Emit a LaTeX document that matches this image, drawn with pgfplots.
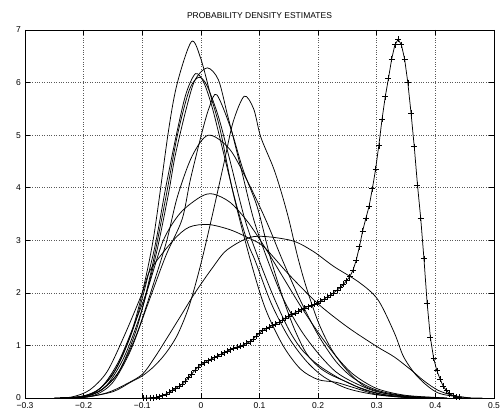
\documentclass[border=0pt]{standalone}
\usepackage{fontspec}
\setmainfont{Liberation Sans}
\usepackage{pgfplots}
\pgfplotsset{compat=1.18}
\begin{document}
\begin{tikzpicture}
\path[use as bounding box] (-25pt,-16pt) rectangle (479pt,398pt);
\begin{axis}[at={(0pt,0pt)}, anchor=south west, scale only axis,
  width=469pt, height=368pt,
  xmin=-0.3, xmax=0.5, ymin=0, ymax=7,
  xtick={-0.3,-0.2,-0.1,0,0.1,0.2,0.3,0.4,0.5},
  xticklabels={−0.3,−0.2,−0.1,0,0.1,0.2,0.3,0.4,0.5},
  ytick={0,1,2,3,4,5,6,7},
  tick align=inside, major tick length=5pt,
  grid=major, major grid style={dotted, black!65, line width=0.6pt},
  axis line style={line width=0.8pt},
  tick style={black, line width=0.6pt},
  ticklabel style={font=\fontsize{8.5}{10}\selectfont},
  xticklabel style={yshift=-1.5pt},
  yticklabel style={xshift=-0.5pt},
  /pgf/number format/assume math mode=true,
  title={PROBABILITY DENSITY ESTIMATES},
  title style={font=\fontsize{8.5}{10}\selectfont, at={(0.5,1)}, anchor=south, yshift=2pt},
  every axis plot/.append style={black, line width=0.75pt},
]
% A
\addplot[smooth, tension=0.5] coordinates {(-0.25,0) (-0.21,0.02) (-0.18,0.12) (-0.15,0.45) (-0.12,1.2) (-0.1,2.0) (-0.08,3.1) (-0.055,5.1) (-0.04,6.0) (-0.016,6.78) (0.0,6.45) (0.017,5.74) (0.033,5.1) (0.055,3.9) (0.085,2.6) (0.11,1.7) (0.14,1.0) (0.17,0.55) (0.2,0.35) (0.23,0.3) (0.26,0.2) (0.3,0.07) (0.35,0.01) (0.4,0)};
% B
\addplot[smooth, tension=0.5] coordinates {(-0.24,0) (-0.2,0.04) (-0.17,0.2) (-0.14,0.65) (-0.11,1.5) (-0.08,2.8) (-0.06,4.0) (-0.04,5.1) (-0.025,5.8) (-0.009,6.17) (0.005,6.0) (0.02,5.5) (0.04,4.6) (0.06,3.7) (0.08,2.95) (0.093,2.6) (0.12,1.8) (0.15,1.15) (0.18,0.7) (0.21,0.4) (0.25,0.18) (0.3,0.06) (0.36,0)};
% B2
\addplot[smooth, tension=0.5] coordinates {(-0.24,0) (-0.2,0.03) (-0.17,0.15) (-0.14,0.5) (-0.11,1.3) (-0.085,2.4) (-0.06,3.8) (-0.04,5.0) (-0.02,5.85) (-0.004,6.1) (0.01,5.95) (0.03,5.35) (0.05,4.5) (0.075,3.4) (0.1,2.6) (0.125,1.9) (0.15,1.3) (0.17,0.95) (0.19,0.72) (0.21,0.55) (0.24,0.35) (0.27,0.2) (0.31,0.07) (0.36,0.01) (0.4,0)};
% C
\addplot[smooth, tension=0.5] coordinates {(-0.23,0) (-0.19,0.05) (-0.16,0.25) (-0.13,0.8) (-0.1,1.7) (-0.075,2.8) (-0.055,3.9) (-0.044,4.6) (-0.025,5.5) (-0.01,6.05) (0.011,6.28) (0.03,6.05) (0.045,5.4) (0.052,5.1) (0.07,4.3) (0.09,3.4) (0.113,2.65) (0.14,1.9) (0.17,1.3) (0.2,0.85) (0.23,0.5) (0.26,0.3) (0.3,0.12) (0.35,0.03) (0.4,0)};
% D
\addplot[smooth, tension=0.5] coordinates {(-0.22,0) (-0.18,0.06) (-0.15,0.3) (-0.12,0.9) (-0.09,1.8) (-0.06,2.7) (-0.032,3.4) (-0.018,4.15) (0.003,5.1) (0.015,5.55) (0.027,5.77) (0.05,5.16) (0.072,4.34) (0.096,3.64) (0.118,2.69) (0.14,1.9) (0.16,1.3) (0.18,0.85) (0.2,0.6) (0.22,0.45) (0.25,0.3) (0.28,0.15) (0.32,0.05) (0.38,0)};
% E
\addplot[smooth, tension=0.5] coordinates {(-0.24,0) (-0.2,0.01) (-0.15,0.12) (-0.12,0.3) (-0.1,0.42) (-0.08,0.6) (-0.06,0.85) (-0.04,1.2) (-0.02,1.75) (0,2.55) (0.02,3.5) (0.04,4.5) (0.055,5.25) (0.074,5.74) (0.09,5.5) (0.102,4.97) (0.123,4.4) (0.136,3.96) (0.15,3.4) (0.165,2.69) (0.18,2.1) (0.2,1.45) (0.22,0.98) (0.24,0.65) (0.26,0.4) (0.28,0.22) (0.31,0.1) (0.35,0.03) (0.4,0)};
% F
\addplot[smooth, tension=0.5] coordinates {(-0.24,0) (-0.2,0.02) (-0.17,0.15) (-0.14,0.5) (-0.11,1.2) (-0.08,2.2) (-0.058,3.0) (-0.04,3.83) (-0.015,4.6) (0.013,5.0) (0.05,4.72) (0.085,4.0) (0.113,3.33) (0.14,2.6) (0.17,1.85) (0.2,1.2) (0.23,0.7) (0.26,0.38) (0.3,0.15) (0.35,0.04) (0.42,0)};
% G
\addplot[smooth, tension=0.5] coordinates {(-0.24,0) (-0.2,0.02) (-0.17,0.2) (-0.14,0.7) (-0.11,1.5) (-0.09,2.1) (-0.064,3.0) (-0.035,3.52) (0,3.83) (0.021,3.88) (0.05,3.72) (0.08,3.35) (0.11,2.85) (0.14,2.3) (0.17,1.75) (0.2,1.25) (0.23,0.8) (0.26,0.45) (0.3,0.18) (0.35,0.05) (0.42,0)};
% H
\addplot[smooth, tension=0.5] coordinates {(-0.25,0) (-0.22,0.02) (-0.19,0.15) (-0.16,0.5) (-0.13,1.2) (-0.1,2.0) (-0.086,2.44) (-0.047,3.0) (-0.02,3.25) (0.013,3.3) (0.05,3.2) (0.08,3.05) (0.107,2.88) (0.15,2.35) (0.199,1.8) (0.25,1.35) (0.3,0.98) (0.33,0.78) (0.36,0.52) (0.38,0.33) (0.404,0.15) (0.43,0.05) (0.46,0)};
% I
\addplot[smooth, tension=0.5] coordinates {(-0.24,0) (-0.2,0.01) (-0.16,0.1) (-0.13,0.25) (-0.1,0.45) (-0.08,0.75) (-0.06,1.1) (-0.035,1.55) (-0.01,2.0) (0.02,2.48) (0.045,2.82) (0.09,3.07) (0.153,3.0) (0.19,2.8) (0.227,2.5) (0.27,2.2) (0.302,1.87) (0.33,1.24) (0.346,0.78) (0.37,0.4) (0.404,0.1) (0.45,0.01) (0.48,0)};
% marked curve
\addplot[mark=+, mark size=3pt, mark options={line width=0.6pt}] coordinates {
(-0.0980,0.000) (-0.0925,0.001) (-0.0870,0.003) (-0.0815,0.005) (-0.0760,0.012)
(-0.0705,0.025) (-0.0650,0.045) (-0.0595,0.075) (-0.0540,0.11) (-0.0485,0.145)
(-0.0430,0.18) (-0.0375,0.22) (-0.0320,0.265) (-0.0265,0.32) (-0.0210,0.39)
(-0.0155,0.46) (-0.0100,0.53) (-0.0045,0.59) (0.0010,0.64) (0.0065,0.67)
(0.0120,0.71) (0.0175,0.74) (0.0230,0.77) (0.0285,0.80) (0.0340,0.83)
(0.0395,0.86) (0.0450,0.89) (0.0505,0.92) (0.0560,0.95) (0.0615,0.97)
(0.0670,0.99) (0.0725,1.01) (0.0780,1.04) (0.0835,1.07) (0.0890,1.12)
(0.0945,1.18) (0.1000,1.24) (0.1055,1.28) (0.1110,1.32) (0.1165,1.35)
(0.1220,1.38) (0.1275,1.41) (0.1330,1.44) (0.1385,1.48) (0.1440,1.52)
(0.1495,1.56) (0.1550,1.59) (0.1605,1.62) (0.1660,1.65) (0.1715,1.68)
(0.1770,1.71) (0.1825,1.74) (0.1880,1.76) (0.1935,1.78) (0.1990,1.81)
(0.2045,1.84) (0.2100,1.88) (0.2155,1.92) (0.2210,1.96) (0.2265,2.00)
(0.2320,2.05) (0.2375,2.10) (0.2430,2.16) (0.2485,2.23) (0.2540,2.31)
(0.2595,2.43) (0.2650,2.62) (0.2705,2.88) (0.2760,3.18) (0.2815,3.42)
(0.2870,3.65) (0.2925,3.98) (0.2980,4.35) (0.3035,4.80) (0.3090,5.30)
(0.3145,5.73) (0.3200,6.08) (0.3255,6.45) (0.3310,6.72) (0.3365,6.82)
(0.3420,6.72) (0.3475,6.45) (0.3530,6.00) (0.3585,5.42) (0.3640,4.78)
(0.3695,4.05) (0.3750,3.42) (0.3805,2.65) (0.3860,1.80) (0.3915,1.15)
(0.3970,0.76) (0.4025,0.52) (0.4080,0.36) (0.4135,0.22) (0.4190,0.14)
(0.4245,0.08) (0.4300,0.045) (0.4355,0.02) (0.4410,0.01)};
\end{axis}
\end{tikzpicture}
\end{document}
